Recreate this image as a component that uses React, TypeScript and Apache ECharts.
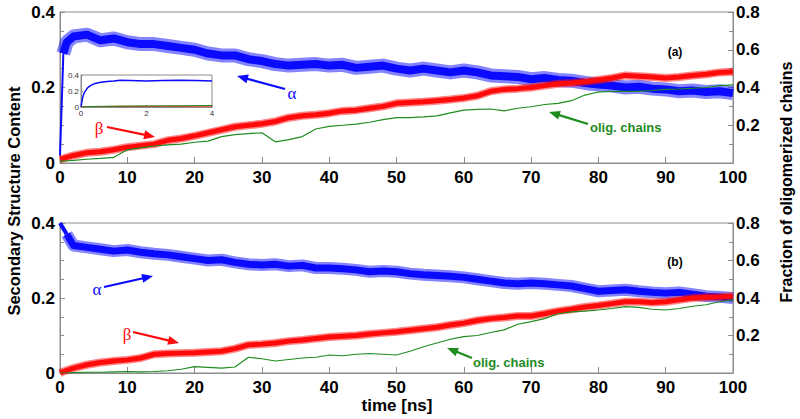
import React, { useEffect, useRef } from "react";
import * as echarts from "echarts";

// time [ns]
const TIME = [0, 0.5, 1, 2, 4, 6, 8, 10, 12, 14, 16, 18, 20, 22, 24, 26, 28, 30, 32, 34, 36, 38, 40, 42, 44, 46, 48, 50, 52, 54, 56, 58, 60, 62, 64, 66, 68, 70, 72, 74, 76, 78, 80, 82, 84, 86, 88, 90, 92, 94, 96, 98, 100];

// panel (a)
const ALPHA_A = [0.02, 0.29, 0.32, 0.335, 0.34, 0.325, 0.33, 0.32, 0.315, 0.315, 0.31, 0.305, 0.3, 0.29, 0.285, 0.285, 0.275, 0.27, 0.262, 0.258, 0.26, 0.262, 0.258, 0.26, 0.252, 0.255, 0.258, 0.25, 0.245, 0.25, 0.245, 0.24, 0.245, 0.24, 0.232, 0.23, 0.228, 0.222, 0.225, 0.22, 0.218, 0.212, 0.208, 0.205, 0.2, 0.202, 0.197, 0.195, 0.19, 0.192, 0.188, 0.19, 0.185];
const BETA_A = [0.01, 0.012, 0.015, 0.02, 0.027, 0.03, 0.035, 0.042, 0.046, 0.05, 0.06, 0.065, 0.072, 0.08, 0.088, 0.096, 0.1, 0.104, 0.11, 0.12, 0.125, 0.128, 0.132, 0.138, 0.14, 0.145, 0.15, 0.158, 0.16, 0.162, 0.165, 0.168, 0.172, 0.178, 0.19, 0.195, 0.197, 0.2, 0.205, 0.21, 0.212, 0.215, 0.22, 0.225, 0.232, 0.23, 0.228, 0.225, 0.228, 0.232, 0.235, 0.24, 0.242];
// fraction of oligomerized chains (right axis)
const OLIG_A = [0.01, 0.01, 0.012, 0.014, 0.02, 0.024, 0.03, 0.07, 0.08, 0.09, 0.096, 0.1, 0.11, 0.116, 0.14, 0.15, 0.156, 0.16, 0.112, 0.124, 0.14, 0.18, 0.194, 0.2, 0.206, 0.216, 0.23, 0.24, 0.24, 0.244, 0.25, 0.266, 0.28, 0.284, 0.286, 0.276, 0.29, 0.298, 0.31, 0.316, 0.33, 0.36, 0.376, 0.38, 0.38, 0.38, 0.384, 0.39, 0.392, 0.396, 0.4, 0.41, 0.414];

// panel (b)
const ALPHA_B = [0.4, 0.385, 0.37, 0.34, 0.335, 0.33, 0.325, 0.328, 0.322, 0.318, 0.315, 0.31, 0.305, 0.3, 0.302, 0.295, 0.29, 0.288, 0.29, 0.285, 0.287, 0.28, 0.28, 0.278, 0.275, 0.27, 0.272, 0.27, 0.265, 0.262, 0.26, 0.258, 0.255, 0.25, 0.245, 0.24, 0.238, 0.24, 0.238, 0.235, 0.232, 0.225, 0.218, 0.22, 0.222, 0.218, 0.215, 0.213, 0.215, 0.21, 0.205, 0.203, 0.2];
const BETA_B = [0, 0.004, 0.007, 0.013, 0.022, 0.028, 0.032, 0.035, 0.04, 0.05, 0.052, 0.053, 0.054, 0.056, 0.058, 0.065, 0.075, 0.077, 0.08, 0.085, 0.088, 0.092, 0.096, 0.098, 0.1, 0.104, 0.107, 0.11, 0.114, 0.118, 0.122, 0.128, 0.133, 0.14, 0.145, 0.148, 0.152, 0.152, 0.158, 0.165, 0.17, 0.176, 0.18, 0.185, 0.19, 0.19, 0.188, 0.19, 0.195, 0.2, 0.202, 0.203, 0.205];
const OLIG_B = [0, 0, 0, 0.002, 0.004, 0.004, 0.006, 0.008, 0.006, 0.008, 0.012, 0.02, 0.034, 0.03, 0.026, 0.032, 0.084, 0.076, 0.064, 0.072, 0.08, 0.084, 0.096, 0.092, 0.1, 0.104, 0.1, 0.096, 0.116, 0.14, 0.16, 0.18, 0.194, 0.2, 0.216, 0.23, 0.26, 0.274, 0.29, 0.316, 0.326, 0.33, 0.336, 0.344, 0.354, 0.35, 0.34, 0.336, 0.344, 0.356, 0.364, 0.38, 0.39];

// inset (first 4 ns of panel a)
const INSET_TIME = [0, 0.05, 0.1, 0.2, 0.3, 0.4, 0.5, 0.6, 0.8, 1, 1.2, 1.5, 2, 2.5, 3, 3.5, 4];
const INSET_ALPHA = [0, 0.12, 0.18, 0.24, 0.27, 0.29, 0.3, 0.31, 0.32, 0.325, 0.335, 0.33, 0.325, 0.33, 0.335, 0.33, 0.325];
const INSET_BETA = [0, 0.003, 0.004, 0.005, 0.005, 0.006, 0.006, 0.006, 0.007, 0.007, 0.008, 0.008, 0.009, 0.01, 0.01, 0.011, 0.012];
const INSET_OLIG = [0, 0.004, 0.005, 0.006, 0.006, 0.007, 0.008, 0.008, 0.009, 0.01, 0.011, 0.012, 0.013, 0.014, 0.015, 0.017, 0.02];

const LEFT_TICKS = [0, 0.2, 0.4];
const RIGHT_TICKS = [0.2, 0.4, 0.6, 0.8];

const BLUE = "#0a0aff";
const RED = "#ff0a0a";
const GREEN = "#1e8c1e";
const FRAME = "#8c8c8c";
const SANS = "'Liberation Sans', Arial, Helvetica, sans-serif";
const SERIF = "'Liberation Serif', 'Times New Roman', serif";

function zip(xs: number[], ys: number[]) {
  return xs.map((x, i) => [x, ys[i]]);
}

function arrow(x1: number, y1: number, x2: number, y2: number, color: string) {
  const dx = x2 - x1;
  const dy = y2 - y1;
  const len = Math.hypot(dx, dy);
  const ux = dx / len;
  const uy = dy / len;
  const hl = 11;
  const hw = 4.5;
  const bx = x2 - ux * hl;
  const by = y2 - uy * hl;
  const px = -uy;
  const py = ux;
  return [
    { type: "line", z: 100, shape: { x1, y1, x2: bx + ux * 2, y2: by + uy * 2 }, style: { stroke: color, lineWidth: 2.2 } },
    {
      type: "polygon",
      z: 100,
      shape: { points: [[x2, y2], [bx + px * hw, by + py * hw], [bx - px * hw, by - py * hw]] },
      style: { fill: color },
    },
  ];
}

function mainXAxis(gridIndex: number) {
  return {
    type: "value",
    gridIndex,
    min: 0,
    max: 100,
    interval: 10,
    axisLine: { lineStyle: { color: FRAME } },
    axisTick: { inside: true, length: 6, lineStyle: { color: FRAME } },
    splitLine: { show: false },
    axisLabel: { color: "#000", fontFamily: SANS, fontWeight: "bold", fontSize: 17, margin: 6 },
  };
}

function leftYAxis(gridIndex: number) {
  return {
    type: "value",
    gridIndex,
    position: "left",
    min: 0,
    max: 0.4,
    interval: 0.2,
    axisLine: { show: true, lineStyle: { color: FRAME } },
    axisTick: { show: true, inside: true, length: 5, lineStyle: { color: FRAME } },
    minorTick: { show: true, splitNumber: 4, length: 4, lineStyle: { color: FRAME } },
    splitLine: { show: false },
    axisLabel: {
      color: "#000",
      fontFamily: SANS,
      fontWeight: "bold",
      fontSize: 17,
      margin: 5,
      formatter: (v: number) => (LEFT_TICKS.some((t) => Math.abs(t - v) < 1e-9) ? String(+v.toFixed(1)) : ""),
    },
  };
}

function rightYAxis(gridIndex: number) {
  return {
    type: "value",
    gridIndex,
    position: "right",
    min: 0,
    max: 0.8,
    interval: 0.2,
    axisLine: { show: true, lineStyle: { color: FRAME } },
    axisTick: { show: true, inside: true, length: 5, lineStyle: { color: FRAME } },
    minorTick: { show: true, splitNumber: 2, length: 4, lineStyle: { color: FRAME } },
    splitLine: { show: false },
    axisLabel: {
      color: "#000",
      fontFamily: SANS,
      fontWeight: "bold",
      fontSize: 17,
      margin: 3,
      formatter: (v: number) => (RIGHT_TICKS.some((t) => Math.abs(t - v) < 1e-9) ? v.toFixed(1) : ""),
    },
  };
}

function lineSeries(name: string, xi: number, yi: number, data: number[][], color: string, width: number, z: number, opacity = 1) {
  return {
    name,
    type: "line",
    xAxisIndex: xi,
    yAxisIndex: yi,
    data,
    symbol: "none",
    z,
    lineStyle: { color, width, join: "round", opacity },
    itemStyle: { color },
  };
}

// a noisy band: a faint wide fringe plus a solid core
function band(name: string, xi: number, yi: number, data: number[][], color: string, core: number, fringe: number, z: number) {
  return [
    lineSeries(name + " fringe", xi, yi, data, color, fringe, z, 0.5),
    lineSeries(name, xi, yi, data, color, core, z + 0.5),
  ];
}

export default function App() {
  const ref = useRef<HTMLDivElement>(null);

  useEffect(() => {
    if (!ref.current) return;
    const chart = echarts.init(ref.current, null, { renderer: "svg" });

    const txt = (x: number, y: number, text: string, color: string, font: string, extra: any = {}) => ({
      type: "text",
      z: 100,
      x,
      y,
      style: { text, fill: color, font, textAlign: "center", textVerticalAlign: "middle", ...extra },
    });

    const alphaA = zip(TIME, ALPHA_A);
    const alphaB = zip(TIME, ALPHA_B);

    chart.setOption({
      animation: false,
      backgroundColor: "#fff",
      grid: [
        { left: 60, top: 12, width: 673, height: 151, show: true, borderColor: FRAME, borderWidth: 1, backgroundColor: "transparent" },
        { left: 60, top: 223, width: 673, height: 150, show: true, borderColor: FRAME, borderWidth: 1, backgroundColor: "transparent" },
        { left: 81, top: 75, width: 131, height: 32, show: true, borderColor: FRAME, borderWidth: 1, backgroundColor: "#fff", z: 10 },
      ],
      xAxis: [
        mainXAxis(0),
        mainXAxis(1),
        {
          type: "value",
          gridIndex: 2,
          min: 0,
          max: 4,
          interval: 2,
          z: 10,
          axisLine: { lineStyle: { color: FRAME } },
          axisTick: { inside: true, length: 2, lineStyle: { color: FRAME } },
          splitLine: { show: false },
          axisLabel: { color: "#333", fontFamily: SANS, fontSize: 8, margin: 2 },
        },
      ],
      yAxis: [
        leftYAxis(0),
        rightYAxis(0),
        leftYAxis(1),
        rightYAxis(1),
        {
          type: "value",
          gridIndex: 2,
          min: 0,
          max: 0.4,
          interval: 0.2,
          z: 10,
          axisLine: { show: true, lineStyle: { color: FRAME } },
          axisTick: { show: true, inside: true, length: 2, lineStyle: { color: FRAME } },
          splitLine: { show: false },
          axisLabel: { color: "#333", fontFamily: SANS, fontSize: 8, margin: 2 },
        },
      ],
      series: [
        // (a)
        lineSeries("α (a) rise", 0, 0, alphaA.slice(0, 2), BLUE, 2, 2),
        ...band("α (a)", 0, 0, alphaA.slice(1), BLUE, 8, 14, 2),
        ...band("β (a)", 0, 0, zip(TIME, BETA_A), RED, 5, 8, 3),
        lineSeries("olig. chains (a)", 0, 1, zip(TIME, OLIG_A), GREEN, 1.2, 4),
        // (b)
        lineSeries("α (b) drop", 1, 2, alphaB.slice(0, 3), BLUE, 4, 2),
        ...band("α (b)", 1, 2, alphaB.slice(2), BLUE, 7, 12, 2),
        ...band("β (b)", 1, 2, zip(TIME, BETA_B), RED, 5, 8, 3),
        lineSeries("olig. chains (b)", 1, 3, zip(TIME, OLIG_B), GREEN, 1.2, 4),
        // inset
        lineSeries("inset α", 2, 4, zip(INSET_TIME, INSET_ALPHA), BLUE, 1.5, 12),
        lineSeries("inset β", 2, 4, zip(INSET_TIME, INSET_BETA), RED, 1, 12),
        lineSeries("inset olig", 2, 4, zip(INSET_TIME, INSET_OLIG), GREEN, 1, 13),
      ],
      graphic: [
        // axis titles
        { ...txt(14, 201, "Secondary Structure Content", "#000", `bold 16.5px ${SANS}`), rotation: Math.PI / 2 },
        { ...txt(786, 182, "Fraction of oligomerized chains", "#000", `bold 16px ${SANS}`), rotation: Math.PI / 2 },
        txt(397, 405, "time [ns]", "#000", `bold 17px ${SANS}`),
        txt(675, 52, "(a)", "#000", `bold 12px ${SANS}`),
        txt(675, 262, "(b)", "#000", `bold 12px ${SANS}`),
        // panel (a) annotations
        txt(292, 93, "α", BLUE, `17px ${SERIF}`),
        txt(99, 128, "β", RED, `17px ${SERIF}`),
        txt(590, 127, "olig. chains", GREEN, `bold 13px ${SANS}`, { textAlign: "left" }),
        ...arrow(285, 89, 237, 76, BLUE),
        ...arrow(107, 127, 155, 137, RED),
        ...arrow(588, 124, 549, 112, GREEN),
        // panel (b) annotations
        txt(97, 289, "α", BLUE, `17px ${SERIF}`),
        txt(127, 334, "β", RED, `17px ${SERIF}`),
        txt(473, 362, "olig. chains", GREEN, `bold 13px ${SANS}`, { textAlign: "left" }),
        ...arrow(104, 287, 153, 276, BLUE),
        ...arrow(133, 332, 179, 343, RED),
        ...arrow(472, 358, 447, 348, GREEN),
      ],
    });

    return () => chart.dispose();
  }, []);

  return <div ref={ref} style={{ position: "fixed", left: 0, top: 0, width: 800, height: 419 }} />;
}
